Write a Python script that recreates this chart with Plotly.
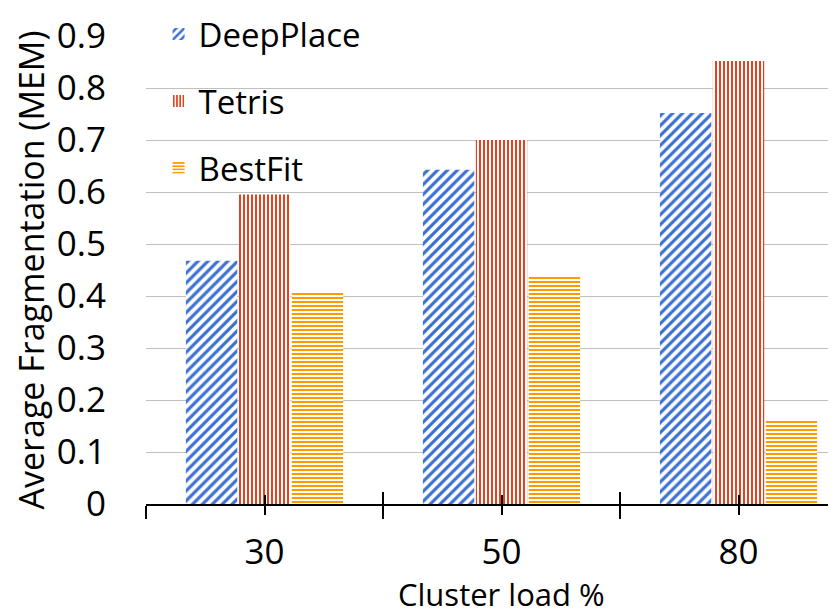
import plotly.graph_objects as go

# Daten
loads = ["30", "50", "80"]
deepplace = [0.468, 0.643, 0.752]
tetris = [0.595, 0.700, 0.852]
bestfit = [0.408, 0.440, 0.162]

FONT = "Open Sans"
GRID = "#BFBFBF"

fig = go.Figure()

fig.add_trace(go.Bar(
    x=loads, y=deepplace, name="DeepPlace", legendgroup="a",
    marker=dict(color="white", line=dict(width=0),
                pattern=dict(shape="/", fgcolor="#3A6FD2", bgcolor="white",
                             fgopacity=1, size=7, solidity=0.45)),
))
fig.add_trace(go.Bar(
    x=loads, y=tetris, name="Tetris", legendgroup="b",
    marker=dict(color="white", line=dict(width=0),
                pattern=dict(shape="|", fgcolor="#E2431E", bgcolor="white",
                             fgopacity=1, size=4, solidity=0.5)),
))
fig.add_trace(go.Bar(
    x=loads, y=bestfit, name="BestFit", legendgroup="c",
    marker=dict(color="white", line=dict(width=0),
                pattern=dict(shape="-", fgcolor="#FF9900", bgcolor="white",
                             fgopacity=1, size=4, solidity=0.5)),
))

# leere Spuren, damit die Zusatz-Achsen fuer die Ticks gezeichnet werden
for ax in ["x2", "x3", "x4"]:
    fig.add_trace(go.Scatter(x=[], y=[], xaxis=ax, showlegend=False, hoverinfo="skip"))

# rechter Rand schneidet die dritte Kategorie ab (wie im Original)
xr = [-0.5, 2.445]
tick_common = dict(tickcolor="black", tickwidth=1.5, showgrid=False,
                   zeroline=False, showticklabels=False, anchor="y",
                   overlaying="x", range=xr, type="linear")

fig.update_layout(
    width=836, height=616,
    margin=dict(l=138, r=0, t=28, b=120, autoexpand=False),
    paper_bgcolor="white", plot_bgcolor="white",
    barmode="group", bargap=0.33, bargroupgap=0.03,
    font=dict(family=FONT, color="black"),
    showlegend=True,
    legend=dict(x=0.018, y=1.064, xanchor="left", yanchor="top",
                bgcolor="rgba(0,0,0,0)", font=dict(size=33, family=FONT),
                tracegroupgap=21),
    xaxis=dict(type="category", range=xr, tickson="boundaries",
               ticks="outside", ticklen=13, tickwidth=1.5, tickcolor="black",
               showline=True, linecolor="black", linewidth=1.5,
               showgrid=False, tickfont=dict(size=35, family=FONT),
               ticklabelstandoff=16),
    xaxis2=dict(tickvals=[-0.5, 0.5, 1.5, 2.5], ticks="inside", ticklen=12, **tick_common),
    xaxis3=dict(tickvals=[0, 1, 2], ticks="outside", ticklen=10, **tick_common),
    xaxis4=dict(tickvals=[0, 1, 2], ticks="inside", ticklen=9, **tick_common),
    yaxis=dict(range=[0, 0.9], dtick=0.1, showline=False, ticks="",
               gridcolor=GRID, gridwidth=1.3, zeroline=False,
               tickfont=dict(size=35, family=FONT), ticklabelstandoff=39,
               title=dict(text="Average Fragmentation (MEM)",
                          font=dict(size=34, family=FONT), standoff=24)),
    annotations=[dict(text="Cluster load %", x=1, xref="x", y=-0.192, yref="paper",
                      showarrow=False, yanchor="middle",
                      font=dict(size=31, family=FONT))],
)

fig.write_html("out.html")
